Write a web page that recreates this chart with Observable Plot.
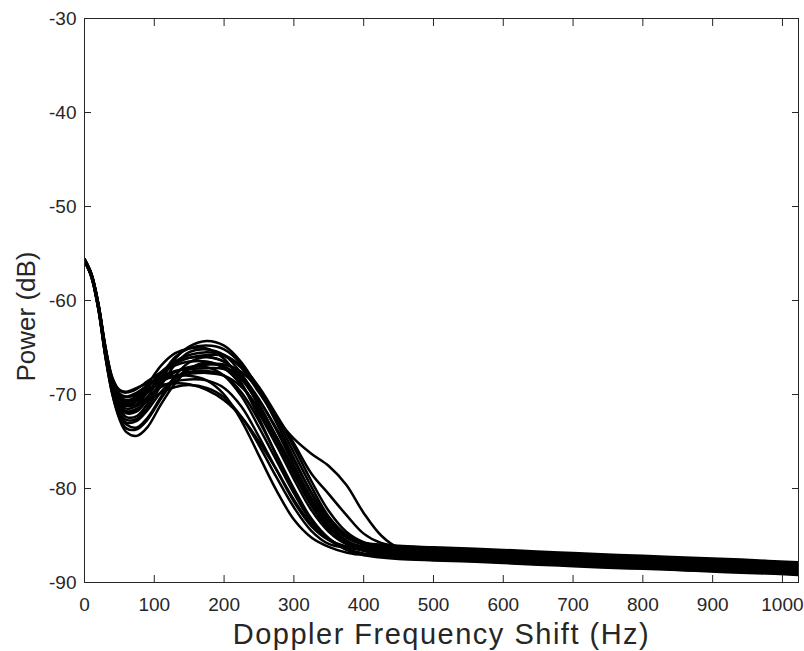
<!DOCTYPE html>
<html><head><meta charset="utf-8">
<script src="https://cdn.jsdelivr.net/npm/d3@7"></script>
<script src="https://cdn.jsdelivr.net/npm/@observablehq/plot@0.6"></script>
<style>
body{margin:0;background:#fff;}
#chart g[aria-label="x-axis label"]{font-size:29px;letter-spacing:1.5px;}
</style></head><body><div id="chart"></div>
<script>
const freqs = [0,10,20,30,40,50,60,75,90,110,130,150,175,200,225,250,275,300,325,350,375,400,425,450,500,560,620,680,740,800,860,920,980,1023];
const xTicks = [0,100,200,300,400,500,600,700,800,900,1000];
const yTicks = [-90,-80,-70,-60,-50,-40,-30];
const xLabel = "Doppler Frequency Shift (Hz)";
const yLabel = "Power (dB)";

const curveA = [-55.8,-57.5,-61,-66,-70,-72.6,-74,-74.4,-73.5,-71,-68.8,-67.3,-66.6,-67.2,-69,-71.8,-75,-78.5,-81.8,-84.3,-85.8,-86.6,-87.1,-87.4,-87.55,-87.7,-87.95,-88.1,-88.3,-88.4,-88.7,-88.8,-89.0,-89.1];
const curveB = [-55.7,-57.4,-60.8,-65.8,-69.6,-72,-73.2,-73.5,-72.5,-70.2,-68,-66.6,-66,-66.5,-68,-70.5,-73.8,-77.5,-81,-83.8,-85.5,-86.4,-86.8,-87.1,-87.25,-87.4,-87.55,-87.85,-88.0,-88.1,-88.35,-88.55,-88.65,-88.85];
const curveC = [-55.6,-57.3,-60.6,-65.5,-69.3,-71.5,-72.4,-72.3,-71,-68.5,-66.2,-64.9,-64.3,-64.8,-66.6,-69.5,-73,-76.8,-80.5,-83.5,-85.2,-86.0,-86.4,-86.6,-86.75,-86.85,-87.15,-87.3,-87.5,-87.7,-87.8,-88.0,-88.2,-88.35];
const curveD = [-55.7,-57.3,-60.6,-65.4,-69,-71,-71.8,-71.6,-70.3,-68,-66,-65.1,-64.8,-65.2,-66.8,-69.4,-72.6,-76.2,-79.8,-83,-84.9,-85.8,-86.1,-86.3,-86.45,-86.65,-86.8,-87.0,-87.25,-87.35,-87.6,-87.7,-87.95,-88.05];
const curveE = [-55.7,-57.3,-60.5,-65.2,-68.7,-70.5,-71.2,-71,-69.8,-67.9,-66.5,-65.8,-65.5,-65.8,-67.2,-69.8,-72.5,-74.7,-76.3,-77.6,-79.6,-82.6,-85.0,-86.3,-86.55,-86.7,-86.9,-87.1,-87.3,-87.5,-87.6,-87.85,-88.0,-88.15];
const curveF = [-55.7,-57.3,-60.5,-65.1,-68.5,-70,-70.3,-70,-69.4,-69,-68.8,-68.9,-69.5,-70.6,-72.4,-75,-78,-81.2,-83.8,-85.4,-86.2,-86.6,-86.8,-86.9,-87.05,-87.2,-87.4,-87.6,-87.75,-87.95,-88.15,-88.3,-88.5,-88.65];
const curveG = [-55.8,-57.4,-60.7,-65.5,-69,-70.8,-71.2,-70.6,-69.6,-68.6,-68.1,-68,-68.5,-70,-72.8,-76.5,-80.2,-83.3,-85.2,-86.2,-86.8,-87.1,-87.35,-87.5,-87.65,-87.8,-88.0,-88.2,-88.4,-88.55,-88.7,-88.9,-89.05,-89.2];
const curveH = [-55.6,-57.2,-60.5,-65.2,-68.6,-70.2,-70.6,-70.2,-69.2,-67.8,-66.9,-66.5,-66.5,-67.2,-69,-72,-75.4,-79,-82.3,-84.6,-85.9,-86.4,-86.65,-86.8,-86.95,-87.05,-87.3,-87.5,-87.65,-87.85,-88.05,-88.2,-88.35,-88.55];
const curveI = [-55.7,-57.4,-60.7,-65.6,-69.2,-71.3,-72,-71.8,-70.6,-68.8,-67.6,-67.1,-67.1,-68,-70.2,-73.5,-77,-80.5,-83.5,-85.4,-86.4,-86.9,-87.1,-87.2,-87.35,-87.5,-87.7,-87.9,-88.1,-88.25,-88.45,-88.6,-88.8,-88.95];
const curveJ = [-55.6,-57.2,-60.4,-65,-68.3,-69.6,-69.8,-69.4,-68.6,-67.6,-66.7,-66.1,-65.8,-65.9,-67,-69.2,-72.2,-75.6,-79.2,-82.4,-84.6,-85.7,-86.0,-86.2,-86.35,-86.5,-86.7,-86.95,-87.1,-87.3,-87.45,-87.6,-87.8,-87.95];
const curveK = [-55.6,-57.2,-60.4,-64.9,-68.2,-69.5,-69.7,-69.3,-68.8,-68.3,-68,-67.8,-67.7,-68,-69.2,-71.5,-74.5,-78,-81.5,-84.2,-85.6,-86.2,-86.4,-86.5,-86.65,-86.8,-87.0,-87.2,-87.4,-87.55,-87.75,-87.9,-88.1,-88.25];
const curveL = [-55.7,-57.3,-60.6,-65.3,-68.8,-70.6,-71,-70.7,-69.8,-68.5,-67.6,-67.1,-66.8,-66.8,-67.6,-69.5,-72.2,-75.2,-78.4,-80.6,-82.8,-84.8,-85.8,-86.1,-86.25,-86.4,-86.6,-86.8,-87.0,-87.15,-87.35,-87.5,-87.7,-87.85];
const curveM = [-55.8,-57.5,-60.9,-65.8,-69.6,-71.9,-72.7,-72.6,-71.4,-69,-66.8,-65.5,-65.2,-65.8,-67.8,-71,-74.6,-78.4,-81.8,-84.4,-85.9,-86.6,-86.9,-87.0,-87.15,-87.3,-87.5,-87.7,-87.9,-88.05,-88.25,-88.4,-88.6,-88.75];
const curveN = [-55.8,-57.5,-60.9,-65.9,-69.8,-72.2,-73,-72.8,-71.7,-69.7,-68.3,-67.6,-67.5,-68,-69.8,-72.8,-76.4,-80,-83.2,-85.3,-86.5,-87.0,-87.2,-87.3,-87.45,-87.6,-87.8,-88.0,-88.2,-88.35,-88.55,-88.7,-88.9,-89.05];
const curveO = [-55.7,-57.3,-60.6,-65.4,-68.9,-70.9,-71.5,-71.2,-70.3,-69.2,-68.6,-68.4,-68.5,-69.3,-71.3,-74.5,-78,-81.4,-84,-85.5,-86.2,-86.5,-86.65,-86.7,-86.85,-87.0,-87.2,-87.4,-87.6,-87.75,-87.95,-88.1,-88.3,-88.45];
const curveP = [-55.6,-57.2,-60.5,-65.2,-68.6,-70.3,-70.8,-70.4,-69.3,-67.6,-66.5,-66.1,-66,-66.5,-68.2,-71.2,-74.6,-78.2,-81.6,-84.2,-85.8,-86.6,-86.95,-87.1,-87.25,-87.4,-87.6,-87.8,-88.0,-88.15,-88.35,-88.5,-88.7,-88.85];
const curveQ = [-55.6,-57.2,-60.4,-65,-68.4,-69.9,-70.2,-69.8,-69,-68.1,-67.5,-67.3,-67.2,-67.3,-68.4,-70.6,-73.6,-77,-80.4,-83.2,-85.0,-85.9,-86.25,-86.4,-86.55,-86.7,-86.9,-87.1,-87.3,-87.45,-87.65,-87.8,-88.0,-88.15];
const curveR = [-55.7,-57.3,-60.6,-65.4,-68.9,-70.8,-71.2,-70.6,-69,-66.9,-65.6,-65.1,-65.1,-66.2,-68.8,-72.5,-76.5,-80.2,-83.4,-85.4,-86.5,-87.0,-87.2,-87.3,-87.4,-87.65,-87.85,-87.95,-88.2,-88.4,-88.5,-88.75,-88.9,-89.0];
const curveS = [-55.8,-57.4,-60.8,-65.6,-69.2,-71.2,-71.8,-71.5,-70.7,-69.8,-69.2,-69,-69.3,-70.3,-72.4,-75.4,-78.8,-82,-84.5,-85.9,-86.3,-86.45,-86.55,-86.6,-86.75,-86.9,-87.1,-87.3,-87.5,-87.65,-87.85,-88.0,-88.2,-88.35];
const curveT = [-55.8,-57.5,-61,-66,-70,-72.4,-73.6,-73.7,-72.7,-70.4,-68.4,-67.2,-66.8,-67,-68.4,-71.1,-74.5,-78,-81.4,-84,-85.6,-86.4,-86.75,-86.9,-87.05,-87.2,-87.4,-87.6,-87.8,-87.95,-88.15,-88.3,-88.5,-88.65];

const curves = [curveA,curveB,curveC,curveD,curveE,curveF,curveG,curveH,curveI,curveJ,curveK,curveL,curveM,curveN,curveO,curveP,curveQ,curveR,curveS,curveT];
const rows = curves.flatMap((vals, i) => vals.map((v, j) => ({series: i, f: freqs[j], p: v})));

const axisColor = "#262626";
const fmt = d => String(d);

const chart = Plot.plot({
  width: 804,
  height: 651,
  marginLeft: 84,
  marginRight: 6,
  marginTop: 18,
  marginBottom: 69,
  style: {fontFamily: "'Liberation Sans', Arial, Helvetica, sans-serif", color: axisColor, background: "#fff"},
  x: {domain: [0, 1023], ticks: xTicks},
  y: {domain: [-90, -30], ticks: yTicks},
  marks: [
    Plot.line(rows, {x: "f", y: "p", z: "series", stroke: "#000", strokeWidth: 2.5, curve: "catmull-rom", clip: true}),
    Plot.frame({stroke: axisColor, strokeWidth: 1}),
    Plot.axisX(xTicks, {anchor: "bottom", tickSize: -7, fill: "none", stroke: axisColor, label: null}),
    Plot.axisX(xTicks, {anchor: "top", tickSize: -7, fill: "none", stroke: axisColor, label: null}),
    Plot.axisY(yTicks, {anchor: "left", tickSize: -7, fill: "none", stroke: axisColor, label: null}),
    Plot.axisY(yTicks, {anchor: "right", tickSize: -7, fill: "none", stroke: axisColor, label: null}),
    Plot.axisX(xTicks, {anchor: "bottom", tickSize: 0, tickPadding: 15, fontSize: 19, tickFormat: fmt, label: xLabel, labelAnchor: "center", labelArrow: "none", labelOffset: 61}),
    Plot.axisY(yTicks, {anchor: "left", tickSize: 0, tickPadding: 8, fontSize: 19, tickFormat: fmt, label: null}),
    Plot.text([yLabel], {text: d => d, frameAnchor: "left", textAnchor: "middle", lineAnchor: "middle", rotate: -90, dx: -58, dy: 16, fontSize: 26, fill: axisColor})
  ]
});
document.getElementById("chart").appendChild(chart);
</script>
</body></html>
